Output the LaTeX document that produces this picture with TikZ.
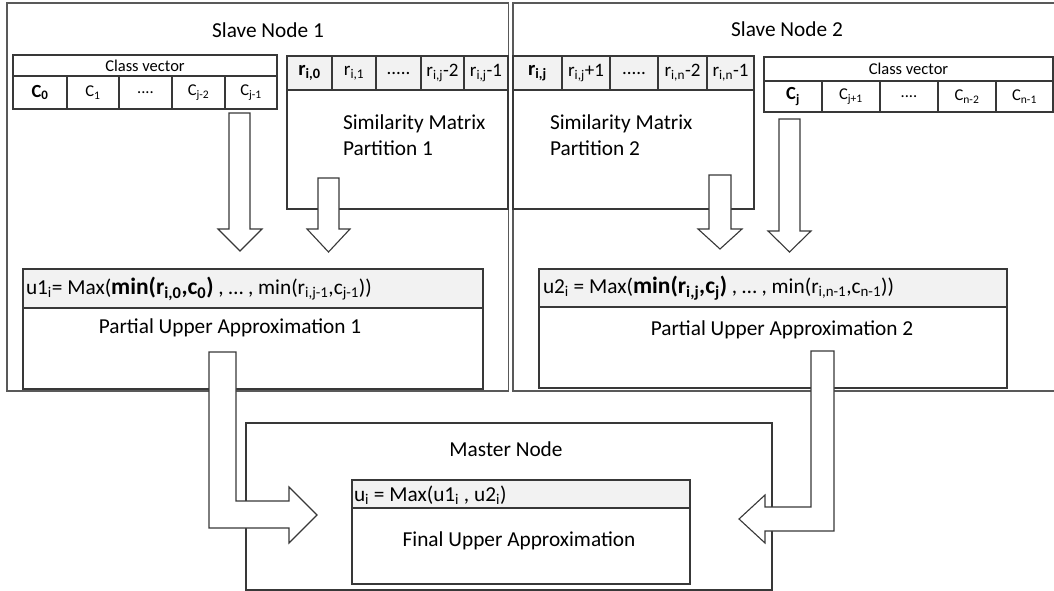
\documentclass[tikz,border=0pt]{standalone}
\usepackage{fontspec}
\setmainfont{Carlito}

\tikzset{
  x=1pt, y=-1pt,
  outer/.style={draw=black!65, line width=1.4pt},
  frame/.style={draw=black!78, line width=1.2pt},
  hdr/.style={frame, fill=black!5},
  blk/.style={fill=white, draw=black!78, line width=1.1pt, line join=miter},
  big/.style={font=\fontsize{21.3}{26}\selectfont},
  cellf/.style={font=\fontsize{16.5}{19}\selectfont},
  rowf/.style={font=\fontsize{19}{22}\selectfont},
  lbl/.style={inner sep=0pt, outer sep=0pt, text=black},
}

% rectangle node spanning (x1,y1)-(x2,y2): name, x1, y1, x2, y2, style, text
\newcommand\boxnode[7]{%
  \node[#6, inner sep=0pt, outer sep=0pt, anchor=north west,
        minimum width={(#4-#2)*1pt}, minimum height={(#5-#3)*1pt}]
        (#1) at (#2,#3) {#7};}
% emphasised first term of a formula
\newcommand\firstterm[1]{{\fontsize{23.5}{26}\selectfont\bfseries #1}}

\begin{document}
\begin{tikzpicture}
\useasboundingbox[fill=white] (0,0) rectangle (1054,591);

% ---------------- Slave Node 1 ----------------
\boxnode{sn1}{7}{3}{508.5}{391}{outer}{}
\node[lbl, big] (sn1t) at (268,30) {Slave Node 1};

% class vector of partition 1
\boxnode{cv1h}{13}{55}{277}{76}{frame, cellf}{Class vector}
\boxnode{cv1a}{13}{76}{67}{109}{frame, cellf}{\fontsize{18.5}{20}\selectfont\textbf{C\textsubscript{0}}}
\boxnode{cv1b}{67}{76}{119}{109}{frame, cellf}{C\textsubscript{1}}
\boxnode{cv1c}{119}{76}{172}{109}{frame, cellf}{....}
\boxnode{cv1d}{172}{76}{225}{109}{frame, cellf}{C\textsubscript{j-2}}
\boxnode{cv1e}{225}{76}{277}{109}{frame, cellf}{C\textsubscript{j-1}}

% similarity matrix partition 1
\boxnode{sm1}{287}{56}{508}{209}{frame}{}
\boxnode{sm1a}{287}{56}{332}{90}{hdr, rowf}{\fontsize{20.5}{22}\selectfont\textbf{r\textsubscript{i,0}}}
\boxnode{sm1b}{332}{56}{376}{90}{hdr, rowf}{r\textsubscript{i,1}}
\boxnode{sm1c}{376}{56}{421}{90}{hdr, rowf}{.....}
\boxnode{sm1d}{421}{56}{464}{90}{hdr, rowf}{r\textsubscript{i,j}-2}
\boxnode{sm1e}{464}{56}{508}{90}{hdr, rowf}{r\textsubscript{i,j}-1}
\node[lbl, big, anchor=west, align=left] (sm1t) at (343,135) {Similarity Matrix\\Partition 1};

% partial upper approximation 1
\boxnode{pu1}{23}{269}{483}{389}{frame}{}
\boxnode{pu1h}{23}{269}{483}{308}{hdr}{}
\node[lbl, big, anchor=west] (pu1f) at (26,289)
  {u1\textsubscript{i}= Max(\firstterm{min(r\textsubscript{i,0},c\textsubscript{0})} , … , min(r\textsubscript{i,j-1},c\textsubscript{j-1}))};
\node[lbl, big] (pu1t) at (230,328) {Partial Upper Approximation 1};

% ---------------- Slave Node 2 ----------------
\path (513,3) coordinate (sn2nw) (1054,391) coordinate (sn2se);
\draw[outer] (sn2se |- sn2nw) -- (sn2nw) |- (sn2se);
\node[lbl, big] (sn2t) at (787,29) {Slave Node 2};

% similarity matrix partition 2
\boxnode{sm2}{513}{56}{754}{209}{frame}{}
\boxnode{sm2a}{513}{56}{562}{90}{hdr, rowf}{\fontsize{20.5}{22}\selectfont\textbf{r\textsubscript{i,j}}}
\boxnode{sm2b}{562}{56}{610}{90}{hdr, rowf}{r\textsubscript{i,j}+1}
\boxnode{sm2c}{610}{56}{658}{90}{hdr, rowf}{.....}
\boxnode{sm2d}{658}{56}{707}{90}{hdr, rowf}{r\textsubscript{i,n}-2}
\boxnode{sm2e}{707}{56}{754}{90}{hdr, rowf}{r\textsubscript{i,n}-1}
\node[lbl, big, anchor=west, align=left] (sm2t) at (550,135) {Similarity Matrix\\Partition 2};

% class vector of partition 2
\boxnode{cv2h}{764}{57}{1053}{81}{frame, cellf}{Class vector}
\boxnode{cv2a}{764}{81}{822}{112}{frame, cellf}{\fontsize{18.5}{20}\selectfont\textbf{C\textsubscript{j}}}
\boxnode{cv2b}{822}{81}{880}{112}{frame, cellf}{C\textsubscript{j+1}}
\boxnode{cv2c}{880}{81}{938}{112}{frame, cellf}{....}
\boxnode{cv2d}{938}{81}{996}{112}{frame, cellf}{C\textsubscript{n-2}}
\boxnode{cv2e}{996}{81}{1053}{112}{frame, cellf}{C\textsubscript{n-1}}

% partial upper approximation 2
\boxnode{pu2}{539}{269}{1007}{388}{frame}{}
\boxnode{pu2h}{539}{269}{1007}{307}{hdr}{}
\node[lbl, big, anchor=west] (pu2f) at (543,288)
  {u2\textsubscript{i} = Max(\firstterm{min(r\textsubscript{i,j},c\textsubscript{j})} , … , min(r\textsubscript{i,n-1},c\textsubscript{n-1}))};
\node[lbl, big] (pu2t) at (782,330) {Partial Upper Approximation 2};

% ---------------- Master Node ----------------
\boxnode{mn}{246}{423}{772}{590}{frame}{}
\node[lbl, big] (mnt) at (506,449) {Master Node};
\boxnode{fu}{352}{480}{690}{584}{frame}{}
\boxnode{fuh}{352}{480}{690}{508}{hdr}{}
\node[lbl, big, anchor=west] (fuf) at (354,495)
  {u\textsubscript{i} = Max(u1\textsubscript{i} , u2\textsubscript{i})};
\node[lbl, big] (fut) at (519,541) {Final Upper Approximation};

% ---------------- block arrows ----------------
% slave node 1: class vector and matrix feed the partial approximation
\filldraw[blk] (229,113) -- (229,229) -- (218,229) -- (240,251) -- (262,229) -- (250,229) -- (250,113) -- cycle;
\filldraw[blk] (318,178) -- (318,229) -- (307,229) -- (328.5,252) -- (350,229) -- (339,229) -- (339,178) -- cycle;
% slave node 2
\filldraw[blk] (709,175) -- (709,229) -- (698,229) -- (720,249) -- (742,229) -- (731,229) -- (731,175) -- cycle;
\filldraw[blk] (779,119) -- (779,231) -- (768,231) -- (789.5,252) -- (811,231) -- (800,231) -- (800,119) -- cycle;
% partial results sent to the master node
\filldraw[blk] (209,352) -- (209,528) -- (289,528) -- (289,543) -- (317,515) -- (289,487) -- (289,501) -- (236,501) -- (236,352) -- cycle;
\filldraw[blk] (834,351) -- (834,531) -- (765,531) -- (765,543) -- (739,519) -- (765,495) -- (765,507) -- (811,507) -- (811,351) -- cycle;
\end{tikzpicture}
\end{document}
